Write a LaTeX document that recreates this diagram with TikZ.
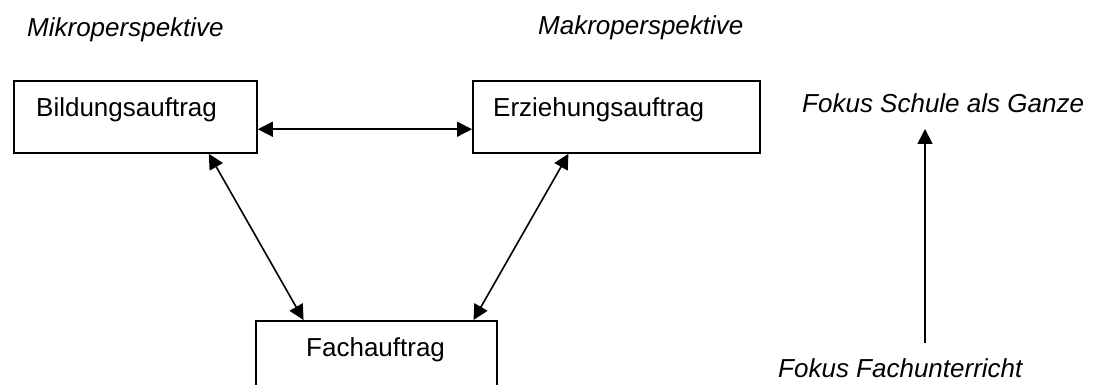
\documentclass[tikz,border=0pt]{standalone}
\usepackage{fontspec}
\setmainfont{Liberation Sans}
\usetikzlibrary{arrows.meta,calc}
\begin{document}
\begin{tikzpicture}[x=1pt,y=-1pt,
  txt/.style={inner sep=0pt, font=\fontsize{26}{31}\selectfont, anchor=base west},
  auftrag/.style={draw=black, line width=1.8pt, inner sep=0pt, anchor=north west},
  link/.style={line width=1.6pt, {Triangle[length=15pt,width=15pt]}-{Triangle[length=15pt,width=15pt]}},
  uplink/.style={line width=1.6pt, -{Triangle[length=15pt,width=15pt]}}]
  \useasboundingbox (0,0) rectangle (1095,385);
  \clip (0,0) rectangle (1095,385);

  % perspective headings
  \node[txt] (mikro) at (27,37) {\itshape Mikroperspektive};
  \node[txt] (makro) at (538,35) {\itshape Makroperspektive};

  % the three mandates
  \node[auftrag, minimum width=243pt, minimum height=72pt] (bild) at (13,80) {};
  \node[txt] (bildtxt) at (36,117) {Bildungsauftrag};
  \node[auftrag, minimum width=287pt, minimum height=72pt] (erz) at (472,80) {};
  \node[txt] (erztxt) at (493,117) {Erziehungsauftrag};
  \node[auftrag, minimum width=241pt, minimum height=95pt] (fachb) at (255,320) {};
  \node[txt] (fachtxt) at (306,356) {Fachauftrag};

  % connection points on the box borders
  \coordinate (bildR) at ($(bild.south east)!0.333!(bild.north east)$);
  \coordinate (bildS) at ($(bild.south west)!0.80!(bild.south east)$);
  \coordinate (erzS)  at ($(erz.south west)!0.334!(erz.south east)$);
  \coordinate (fachL) at ($(fachb.north west)!0.2!(fachb.north east)$);
  \coordinate (fachR) at ($(fachb.north west)!0.9!(fachb.north east)$);

  \draw[link] (bildR) -- (bildR -| erz.west);
  \draw[link] (bildS) -- (fachL);
  \draw[link] (erzS) -- (fachR);

  % focus axis
  \node[txt] (schule) at (802,113) {\itshape Fokus Schule als Ganze};
  \node[txt] (unterricht) at (778,377) {\itshape Fokus Fachunterricht};
  \coordinate (axisLow) at (925,343);
  \coordinate (axisHigh) at (925,129);
  \draw[uplink] (axisLow) -- (axisHigh);
\end{tikzpicture}
\end{document}
